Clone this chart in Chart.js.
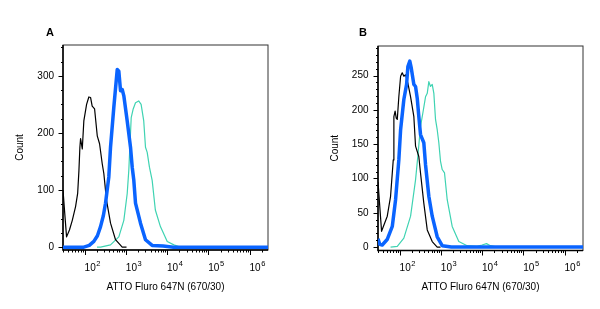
<!DOCTYPE html>
<html>
<head>
<meta charset="utf-8">
<title>ATTO Fluro 647N histograms</title>
<script src="https://cdn.jsdelivr.net/npm/chart.js"></script>
<style>
  body { margin: 0; background: #fff; }
  #wrap { position: relative; width: 600px; height: 309px; }
  .panel { position: absolute; top: 0; width: 300px; height: 309px; }
  .tag { position: absolute; font: bold 11px "Liberation Sans", Arial, sans-serif; color: #000; }
</style>
</head>
<body>
<div id="wrap">
  <div class="panel" style="left:0"><canvas id="chartA" width="300" height="309"></canvas></div>
  <div class="panel" style="left:300px"><canvas id="chartB" width="300" height="309"></canvas></div>
  <div class="tag" style="left:46px;top:26px">A</div>
  <div class="tag" style="left:359px;top:26px">B</div>
</div>
<script>
// fluorescence values (x) and counts (y)
const aBlackX = [30, 33, 36.6, 43, 50.4, 60.5, 68, 73, 77, 80, 88, 96, 112, 127, 140, 153, 175, 203, 231, 268, 293, 341, 426, 563, 818, 1040];
const aBlackY = [100, 60, 18, 30, 47, 71, 94, 134, 175, 190, 172, 221, 250, 263, 262, 247, 242, 195, 181, 146, 129, 82, 42, 13, 0, 0];
const aBlueX = [30, 96, 130, 168, 205, 244, 285, 322, 387, 426, 512, 619, 677, 744, 818, 895, 1081, 1300, 1429, 1563, 1718, 2270, 3000, 4355, 8000, 14300, 2800000];
const aBlueY = [0, 0, 3, 10, 20, 36, 55, 77, 123, 175, 245, 311, 308, 274, 276, 265, 221, 175, 140, 117, 77, 42, 13, 3, 2, 0, 0];
const aTealX = [200, 244, 426, 677, 895, 1081, 1180, 1352, 1510, 1718, 2050, 2350, 2720, 3000, 3300, 3740, 4355, 5200, 6900, 10100, 14600, 19200, 30700, 2800000];
const aTealY = [0, 0, 4, 18, 47, 94, 134, 227, 242, 253, 256, 250, 221, 175, 166, 140, 117, 65, 36, 10, 4, 1, 0, 0];

const bBlackX = [30, 36.6, 50.3, 60.5, 70.3, 72.8, 78, 83, 88, 96, 106, 116, 127, 140, 159, 185, 222, 244, 293, 322, 387, 469, 619, 818, 984];
const bBlackY = [95, 23, 45, 74, 127, 190, 198, 188, 186, 219, 249, 254, 249, 251, 239, 219, 190, 147, 132, 108, 64, 25, 8, 0, 0];
const bBlueX = [30, 33, 38, 50, 66.6, 80, 96, 106, 127, 148, 159, 177, 192, 222, 244, 268, 293, 322, 387, 426, 512, 619, 818, 1081, 1800, 2800000];
const bBlueY = [12, 4, 3, 11, 30, 69, 127, 171, 215, 237, 263, 271, 261, 237, 234, 217, 190, 164, 152, 120, 74, 45, 15, 2, 0, 0];
const bTealX = [60.5, 88, 127, 185, 244, 277, 322, 366, 426, 469, 512, 563, 619, 678, 744, 818, 895, 984, 1081, 1230, 1429, 1888, 2730, 4355, 7600, 10000, 12800, 16000, 23200, 2800000];
const bTealY = [0, 1, 13, 45, 98, 132, 176, 195, 219, 224, 241, 234, 237, 224, 186, 171, 152, 125, 113, 108, 69, 30, 8, 2, 1, 3, 5, 2, 0, 0];

// axes
const xMin = 30, xMax = 2800000;
const xMajorTicks = [100, 1000, 10000, 100000, 1000000];
const xTickBase = '10';
const xTickExp = ['2', '3', '4', '5', '6'];
const xTitle = 'ATTO Fluro 647N (670/30)';
const yTitle = 'Count';

const blue = '#0a64ff';
const teal = '#3fd3b2';
const fontFamily = '"Liberation Sans", Arial, sans-serif';

Chart.defaults.font.family = fontFamily;
Chart.defaults.font.size = 10;
Chart.defaults.color = '#000';

function pts(xs, ys) {
  return xs.map((x, i) => ({ x: x, y: ys[i] }));
}

function logTicks() {
  const out = [];
  for (let e = 1; e <= 6; e++) {
    for (let k = 1; k <= 9; k++) {
      const v = k * Math.pow(10, e);
      if (v >= xMin && v <= xMax) out.push({ value: v, major: xMajorTicks.includes(v) });
    }
  }
  return out;
}

// frame box, tick marks and the exponents of the x labels, placed through the chart's scales
const frameTicks = {
  id: 'frameTicks',
  beforeDatasetsDraw(chart) {
    const { ctx, chartArea: a, scales: { x, y } } = chart;
    ctx.save();
    ctx.strokeStyle = '#333';
    ctx.lineWidth = 1;
    ctx.strokeRect(a.left, a.top, a.right - a.left, a.bottom - a.top);
    ctx.strokeStyle = '#000';
    ctx.lineWidth = 1.5;
    ctx.beginPath();
    ctx.moveTo(a.left, a.top);
    ctx.lineTo(a.left, a.bottom);
    ctx.lineTo(a.right, a.bottom);
    ctx.stroke();
    ctx.lineWidth = 1;
    ctx.beginPath();
    x.ticks.forEach(t => {
      const px = Math.round(x.getPixelForValue(t.value)) + 0.5;
      ctx.moveTo(px, a.bottom);
      ctx.lineTo(px, a.bottom + (t.major ? 5 : 2.5));
    });
    y.ticks.forEach(t => {
      const py = Math.round(y.getPixelForValue(t.value)) + 0.5;
      ctx.moveTo(a.left, py);
      ctx.lineTo(a.left - (t.major ? 4.5 : 2), py);
    });
    ctx.stroke();

    // superscript exponents next to the "10" labels
    const mid = x.top + x.options.ticks.padding + 6;
    ctx.fillStyle = '#000';
    ctx.textBaseline = 'middle';
    ctx.textAlign = 'left';
    xMajorTicks.forEach((v, i) => {
      const px = x.getPixelForValue(v);
      ctx.font = '10px ' + fontFamily;
      const w = ctx.measureText(xTickBase).width;
      ctx.font = '7.5px ' + fontFamily;
      ctx.fillText(xTickExp[i], px + w + 0.5, mid - 4.5);
    });
    ctx.restore();
  }
};

function histChart(id, sets, yMin, yMax, yStep, yLabelStep, pad, yWidth, xHeight, yPad) {
  const yTicks = [];
  for (let v = 0; v <= yMax; v += yStep) yTicks.push({ value: v, major: v % yLabelStep === 0 });
  return new Chart(document.getElementById(id), {
    type: 'line',
    data: {
      datasets: [
        { data: pts(sets[0], sets[1]), borderColor: blue, borderWidth: 3.5, order: 0 },
        { data: pts(sets[2], sets[3]), borderColor: '#000', borderWidth: 1.2, order: 1 },
        { data: pts(sets[4], sets[5]), borderColor: teal, borderWidth: 1.2, order: 2 }
      ]
    },
    options: {
      responsive: false,
      animation: false,
      layout: { padding: pad },
      elements: { point: { radius: 0 }, line: { tension: 0, fill: false, borderJoinStyle: 'round' } },
      plugins: { legend: { display: false }, tooltip: { enabled: false } },
      scales: {
        x: {
          type: 'logarithmic',
          min: xMin,
          max: xMax,
          grid: { display: false, drawTicks: false },
          border: { display: false },
          afterBuildTicks: s => { s.ticks = logTicks(); },
          afterFit: s => { s.height = xHeight; },
          ticks: {
            autoSkip: false,
            maxRotation: 0,
            align: 'start',
            padding: 12,
            font: { size: 10 },
            callback: v => (xMajorTicks.includes(v) ? xTickBase : '')
          },
          title: { display: true, text: xTitle, font: { size: 10 }, padding: { top: 0, bottom: 16 } }
        },
        y: {
          min: yMin,
          max: yMax,
          grid: { display: false, drawTicks: false },
          border: { display: false },
          afterBuildTicks: s => { s.ticks = yTicks.slice(); },
          afterFit: s => { s.width = yWidth; },
          ticks: {
            autoSkip: false,
            padding: yPad,
            font: { size: 10 },
            callback: v => (v % yLabelStep === 0 ? String(v) : '')
          },
          title: { display: true, text: yTitle, font: { size: 10 }, padding: { top: 6, bottom: 0 } }
        }
      }
    },
    plugins: [frameTicks]
  });
}

histChart('chartA', [aBlueX, aBlueY, aBlackX, aBlackY, aTealX, aTealY],
  -5, 354, 25, 100, { left: 8, top: 45, right: 32, bottom: 0 }, 55, 59, 9);
histChart('chartB', [bBlueX, bBlueY, bBlackX, bBlackY, bTealX, bTealY],
  -5, 293, 10, 50, { left: 23, top: 46, right: 17, bottom: 0 }, 55, 58.5, 9.5);
</script>
</body>
</html>
